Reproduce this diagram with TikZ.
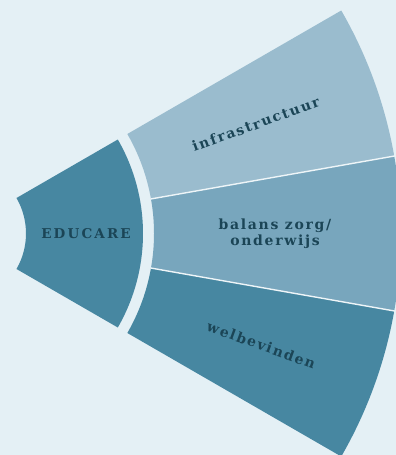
\documentclass[tikz,border=0pt]{standalone}
\usepackage{fontspec}
\usetikzlibrary{calc}
\newfontfamily\labfont[LetterSpace=12,BoldFont={DejaVu Serif Bold}]{DejaVu Serif}
\newfontfamily\capfont[LetterSpace=16,BoldFont={DejaVu Serif Bold}]{DejaVu Serif}
\definecolor{bgc}{HTML}{E4F0F5}
\definecolor{darkc}{HTML}{4787A1}
\definecolor{lightc}{HTML}{9ABCCE}
\definecolor{midc}{HTML}{78A6BD}
\definecolor{textc}{HTML}{1B4556}
\definecolor{linec}{HTML}{EEF5F8}
\tikzset{
  lab/.style={font=\labfont\bfseries\fontsize{14}{16}\selectfont, text=textc, align=center, inner sep=0pt},
  divider/.style={draw=linec, line width=1.4pt}
}
\begin{document}
\begin{tikzpicture}[x=1pt,y=1pt]
\useasboundingbox (0,0) rectangle (396,-455);
\fill[bgc] (0,0) rectangle (396,-455);
\clip (0,0) rectangle (396,-455);
\coordinate (C) at (-45,-233.5);
% inner sector
\fill[darkc] ($(C)+(30:71)$) arc[start angle=30,end angle=-30,radius=71] -- ($(C)+(-30:188)$) arc[start angle=-30,end angle=30,radius=188] -- cycle;
% outer sectors
\fill[lightc] ($(C)+(30:199)$) arc[start angle=30,end angle=10,radius=199] -- ($(C)+(10:446)$) arc[start angle=10,end angle=30,radius=446] -- cycle;
\fill[midc] ($(C)+(10:199)$) arc[start angle=10,end angle=-10,radius=199] -- ($(C)+(-10:446)$) arc[start angle=-10,end angle=10,radius=446] -- cycle;
\fill[darkc] ($(C)+(-10:199)$) arc[start angle=-10,end angle=-30,radius=199] -- ($(C)+(-30:446)$) arc[start angle=-30,end angle=-10,radius=446] -- cycle;
% dividers
\coordinate (d1a) at ($(C)+(10:199)$);
\coordinate (d1b) at ($(C)+(10:447)$);
\coordinate (d2a) at ($(C)+(-10:199)$);
\coordinate (d2b) at ($(C)+(-10:447)$);
\draw[divider] (d1a) -- (d1b);
\draw[divider] (d2a) -- (d2b);
% labels
\node[lab, font=\capfont\bfseries\fontsize{13.5}{15}\selectfont] (educare) at ($(C)+(0:131)$) {EDUCARE};
\node[lab, rotate=20] (infra) at ($(C)+(20:320)$) {infrastructuur};
\node[lab] (balans) at ($(C)+(0:320)$) {balans zorg/\\onderwijs};
\node[lab, rotate=-20] (welbe) at ($(C)+(-20:326)$) {welbevinden};
\end{tikzpicture}
\end{document}
